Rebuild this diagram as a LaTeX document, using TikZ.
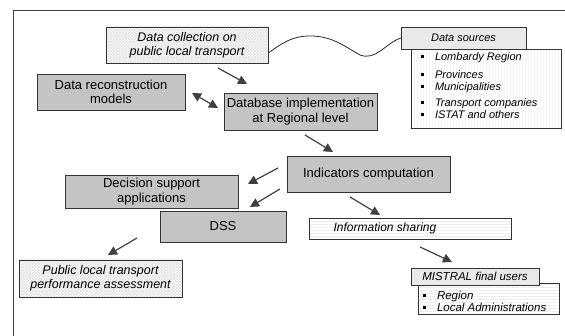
\documentclass[tikz,border=0pt]{standalone}
\usepackage{fontspec}
\setmainfont{Liberation Sans}
\usetikzlibrary{arrows.meta,patterns}
\definecolor{boxgray}{RGB}{196,196,196}
\definecolor{headgray}{RGB}{233,233,233}
\definecolor{linegray}{RGB}{64,64,64}
\newcommand{\itm}{\makebox[14pt][l]{\rule[2.5pt]{3pt}{3pt}}}

\begin{document}
\begin{tikzpicture}[x=1pt, y=1pt,
  gbox/.style={draw=black!80, fill=boxgray, inner sep=0pt, align=center,
    font=\fontsize{13}{14.5}\selectfont},
  hbox/.style={draw=black!80, preaction={fill=white}, pattern=crosshatch,
    pattern color=black!12, inner sep=0pt, align=center,
    font=\fontsize{12.5}{14}\selectfont\itshape},
  headbox/.style={draw=black!80, fill=headgray, inner sep=0pt,
    font=\fontsize{11}{12}\selectfont\itshape},
  vbox/.style={draw=black!80, preaction={fill=white}, pattern=vertical lines,
    pattern color=black!4, inner sep=0pt},
  lbox/.style={draw=black!80, preaction={fill=white}, pattern=horizontal lines,
    pattern color=black!7, inner sep=0pt},
  items/.style={anchor=north west, inner sep=0pt, align=left,
    font=\fontsize{11}{12}\selectfont\itshape},
  arr/.style={draw=linegray, line width=1.2pt, -{Triangle[length=9pt,width=9pt]}}]

  \useasboundingbox (0,0) rectangle (565,336);

  % frame
  \draw[line width=1pt, black!75] (13,0) -- (13,325) -- (565,325);

  % boxes
  \node[hbox, minimum width=162, minimum height=36] (collect) at (187,291)
    {Data collection on\\public local transport};
  \node[gbox, minimum width=148, minimum height=36] (recon) at (111,244)
    {Data reconstruction\\models};
  \node[gbox, minimum width=153, minimum height=37] (dbimpl) at (300.5,224.5)
    {Database implementation\\at Regional level};
  \node[vbox, minimum width=150, minimum height=79] (srclist) at (486,247.5) {};
  \node[headbox, minimum width=125, minimum height=22] (srchead) at (463.5,298)
    {Data sources};
  \node[items] (srcitems) at ([shift={(10,-4)}]srclist.north west)
    {\itm Lombardy Region\\[6pt]\itm Provinces\\\itm Municipalities\\[4pt]%
     \itm Transport companies\\\itm ISTAT and others};
  \node[gbox, minimum width=163, minimum height=36] (indic) at (368.5,162)
    {Indicators computation};
  \node[gbox, minimum width=173, minimum height=33] (decis) at (151.5,144.5)
    {Decision support\\applications};
  \node[gbox, minimum width=126, minimum height=31] (dss) at (223,109.5) {DSS};
  \node[hbox, minimum width=163, minimum height=37] (public) at (100.5,57.5)
    {Public local transport\\performance assessment};
  \node[lbox, minimum width=202, minimum height=21,
    font=\fontsize{12}{13}\selectfont\itshape] (share) at (410,107.5)
    {\hspace*{-50pt}Information sharing};
  \node[lbox, minimum width=141, minimum height=31] (userlist) at (488.5,37.5) {};
  \node[headbox, minimum width=128, minimum height=17,
    font=\fontsize{11.5}{12}\selectfont\itshape] (users) at (475,59.5)
    {MISTRAL final users};
  \node[items, font=\fontsize{11.5}{12}\selectfont\itshape] (useritems)
    at ([shift={(5,-8)}]userlist.north west)
    {\itm Region\\\itm Local Administrations};

  % arrow ends
  \coordinate (c1) at (218,268);  \coordinate (d1) at (247,252);
  \coordinate (r1) at (192,243);  \coordinate (d2) at (218,228);
  \coordinate (d3) at (305,201);  \coordinate (i1) at (333,184);
  \coordinate (i2) at (278,168);  \coordinate (a1) at (248,152);
  \coordinate (i3) at (280,147);  \coordinate (s1) at (250,129);
  \coordinate (i4) at (350,139);  \coordinate (h1) at (380,121);
  \coordinate (h2) at (420,89);   \coordinate (u1) at (452,74);
  \coordinate (s2) at (137,98);   \coordinate (p1) at (108,81);

  \draw[arr] (c1) -- (d1); %% collect->dbimpl
  \draw[arr, {Triangle[length=9pt,width=9pt]}-{Triangle[length=9pt,width=9pt]}]
    (r1) -- (d2); %% recon<->dbimpl
  \draw[arr] (d3) -- (i1); %% dbimpl->indic
  \draw[arr] (i2) -- (a1); %% indic->decis
  \draw[arr] (i3) -- (s1); %% indic->dss
  \draw[arr] (i4) -- (h1); %% indic->share
  \draw[arr] (h2) -- (u1); %% share->users
  \draw[arr] (s2) -- (p1); %% dss->public

  % link to the sources
  \draw[black!85, line width=0.8pt] (collect.east |- 0,283)
    to[out=35,in=180] (310,300) to[out=0,in=150] (360,281)
    to[out=-20,in=200] (srchead.west);

\end{tikzpicture}
\end{document}
